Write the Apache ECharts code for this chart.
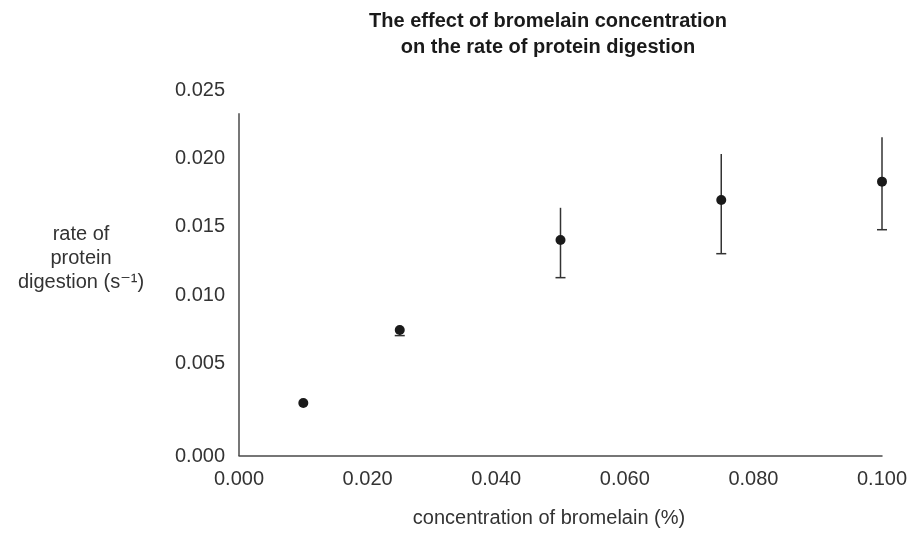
<!DOCTYPE html>
<html>
<head>
<meta charset="utf-8">
<script src="https://cdn.jsdelivr.net/npm/echarts@6/dist/echarts.min.js"></script>
<style>
html,body{margin:0;padding:0;background:#fff;}
#chart{width:916px;height:535px;}
</style>
</head>
<body>
<div id="chart"></div>
<script>
// Data
const concentration = [0.010, 0.025, 0.050, 0.075, 0.100];
const rate          = [0.00215, 0.00748, 0.01405, 0.01697, 0.01831];
const errLow        = [null,    0.00707, 0.01130, 0.01305, 0.01480];
const errHigh       = [null,    0.00780, 0.01640, 0.02033, 0.02155];
const xTicks = [0, 0.02, 0.04, 0.06, 0.08, 0.10];
const yTicks = [0.005, 0.010, 0.015, 0.020, 0.025];
const yMin = -0.00172;      // where the x axis sits (drawn at the "0.000" label)
const yLineTop = 0.0233;    // top end of the drawn y axis line

const titleText = 'The effect of bromelain concentration\non the rate of protein digestion';
const xName = 'concentration of bromelain (%)';
const yName = 'rate of\nprotein\ndigestion (s\u207B\u00B9)';

const FONT = '"Liberation Sans", Arial, "DejaVu Sans", sans-serif';
const chart = echarts.init(document.getElementById('chart'), null, {renderer: 'canvas'});

const points = concentration.map((c, i) => [c, rate[i]]);
const bars = concentration
  .map((c, i) => [c, errLow[i], errHigh[i]])
  .filter(d => d[1] != null && d[2] != null);

chart.setOption({
  animation: false,
  backgroundColor: '#ffffff',
  grid: {left: 239, right: 34, top: 90, bottom: 79, containLabel: false, outerBoundsMode: 'none'},
  xAxis: {
    type: 'value', min: 0, max: 0.1, interval: 0.02,
    axisLine: {show: true, onZero: false, lineStyle: {color: '#4a4a4a', width: 1.5}},
    axisTick: {show: false},
    splitLine: {show: false},
    axisLabel: {
      margin: 13, color: '#333', fontSize: 20, fontFamily: FONT,
      customValues: xTicks,
      formatter: v => v.toFixed(3)
    }
  },
  yAxis: {
    type: 'value', min: yMin, max: 0.025,
    axisLine: {show: false},
    axisTick: {show: false},
    splitLine: {show: false},
    axisLabel: {
      margin: 14, color: '#333', fontSize: 20, fontFamily: FONT,
      customValues: [yMin].concat(yTicks),
      formatter: v => (v < 0.001 ? '0.000' : v.toFixed(3))
    }
  },
  graphic: [
    {type: 'text', x: 548, y: 8, style: {
      text: titleText, textAlign: 'center',
      font: 'bold 20px ' + FONT, fill: '#1a1a1a', lineHeight: 26}},
    {type: 'text', x: 549, y: 506, style: {
      text: xName, textAlign: 'center',
      font: '20px ' + FONT, fill: '#333', lineHeight: 24}},
    {type: 'text', x: 81, y: 222, style: {
      text: yName, textAlign: 'center',
      font: '20px ' + FONT, fill: '#333', lineHeight: 24}}
  ],
  series: [
    {
      type: 'custom',
      data: bars,
      z: 2,
      renderItem: function (params, api) {
        const x = api.value(0);
        const lo = api.coord([x, api.value(1)]);
        const hi = api.coord([x, api.value(2)]);
        const half = 5;
        const st = {stroke: '#333', lineWidth: 1.5};
        return {type: 'group', children: [
          {type: 'line', shape: {x1: lo[0], y1: lo[1], x2: hi[0], y2: hi[1]}, style: st},
          {type: 'line', shape: {x1: lo[0] - half, y1: lo[1], x2: lo[0] + half, y2: lo[1]}, style: st}
        ]};
      }
    },
    {
      type: 'scatter',
      data: points,
      symbol: 'circle',
      symbolSize: 10,
      z: 3,
      itemStyle: {color: '#1a1a1a', opacity: 1},
      markLine: {
        silent: true, symbol: 'none', animation: false,
        label: {show: false},
        lineStyle: {color: '#4a4a4a', width: 1.5, type: 'solid'},
        data: [[{coord: [0, yMin]}, {coord: [0, yLineTop]}]]
      }
    }
  ]
});
</script>
</body>
</html>
